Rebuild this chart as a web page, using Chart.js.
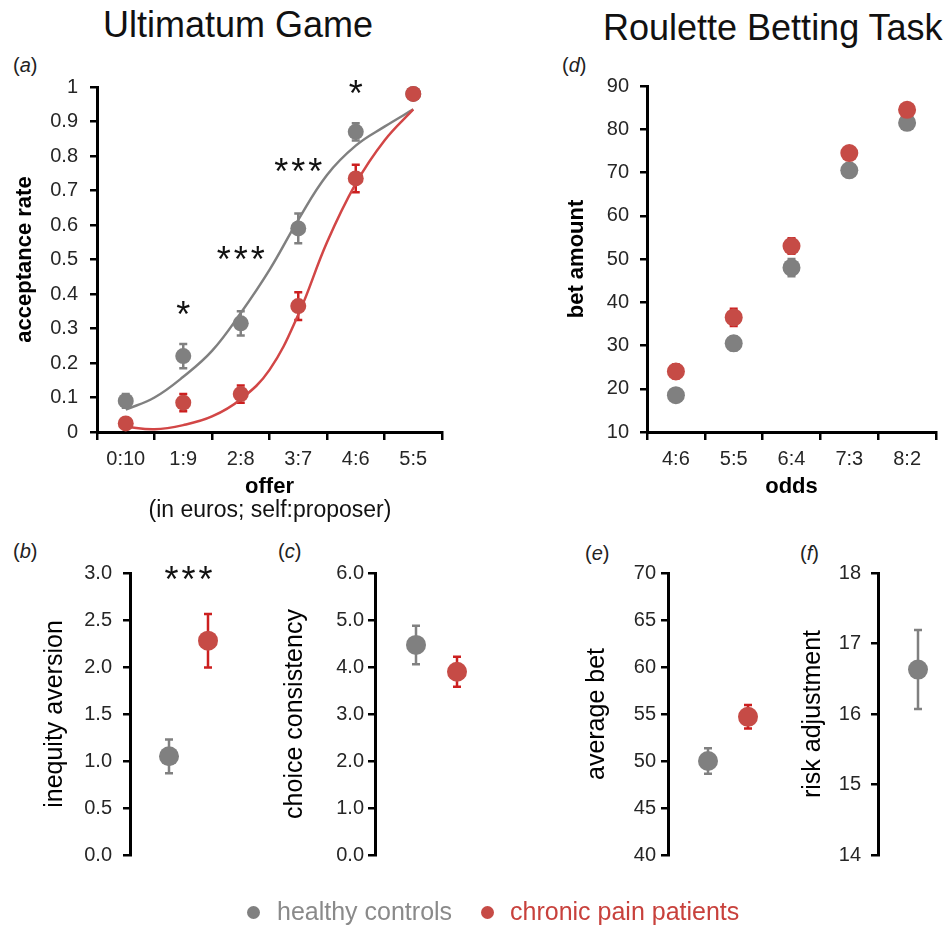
<!DOCTYPE html>
<html>
<head>
<meta charset="utf-8">
<title>Ultimatum Game / Roulette Betting Task</title>
<script src="https://cdn.jsdelivr.net/npm/chart.js@4.4.1/dist/chart.umd.min.js"></script>
<style>
  body { margin: 0; width: 945px; height: 930px; overflow: hidden; background: #fff; position: relative;
         font-family: "Liberation Sans", Arial, sans-serif; }
  canvas { position: absolute; }
  .t { position: absolute; white-space: nowrap; line-height: 1; }
  .big { font-size: 36px; color: #111; }
  .tag { font-size: 20px; color: #222; }
  .dot { position: absolute; width: 13px; height: 13px; border-radius: 50%; }
</style>
</head>
<body>
<div class="t big" style="left:103px;top:7px">Ultimatum Game</div>
<div class="t big" style="left:603px;top:10px">Roulette Betting Task</div>

<div class="t tag" style="left:13px;top:55px">(<i>a</i>)</div>
<div class="t tag" style="left:562px;top:55px">(<i>d</i>)</div>
<div class="t tag" style="left:13px;top:541px">(<i>b</i>)</div>
<div class="t tag" style="left:278px;top:541px">(<i>c</i>)</div>
<div class="t tag" style="left:585px;top:543px">(<i>e</i>)</div>
<div class="t tag" style="left:800px;top:543px">(<i>f</i>)</div>

<canvas id="grafico-a" width="450" height="460" style="left:0;top:60px"></canvas>
<canvas id="grafico-d" width="405" height="460" style="left:540px;top:60px"></canvas>
<canvas id="grafico-b" width="260" height="345" style="left:0;top:540px"></canvas>
<canvas id="grafico-c" width="260" height="345" style="left:250px;top:540px"></canvas>
<canvas id="grafico-e" width="240" height="345" style="left:560px;top:540px"></canvas>
<canvas id="grafico-f" width="230" height="345" style="left:780px;top:540px"></canvas>

<div class="t" style="left:270px;top:498px;font-size:23px;color:#111;transform:translateX(-50%)">(in euros; self:proposer)</div>

<div class="dot" style="left:247px;top:906px;background:#808080"></div>
<div class="t" style="left:277px;top:899px;font-size:25px;color:#8a8a8a">healthy controls</div>
<div class="dot" style="left:481px;top:906px;background:#c64b46"></div>
<div class="t" style="left:510px;top:899px;font-size:25px;color:#c8413c">chronic pain patients</div>

<script>
// Ultimatum game: acceptance rate per offer
const offers = ["0:10", "1:9", "2:8", "3:7", "4:6", "5:5"];
const acceptControls = [0.09, 0.22, 0.315, 0.59, 0.87, 0.98];
const acceptControlsErr = [0.02, 0.035, 0.035, 0.043, 0.025, 0.01];
const acceptPain = [0.025, 0.085, 0.11, 0.365, 0.735, 0.98];
const acceptPainErr = [0.006, 0.025, 0.025, 0.04, 0.04, 0.01];
// fitted curves read at half offer steps
const fitOffers = [0, 0.5, 1, 1.5, 2, 2.5, 3, 3.5, 4, 4.5, 5];
const fitControls = [0.065, 0.1, 0.16, 0.235, 0.345, 0.47, 0.615, 0.745, 0.83, 0.885, 0.935];
const fitPain = [0.015, 0.008, 0.02, 0.045, 0.095, 0.18, 0.34, 0.55, 0.72, 0.845, 0.935];
const acceptSig = ["", "*", "***", "***", "*", ""];
const acceptSigAt = [null, 0.36, 0.52, 0.775, 1.0, null];

// Roulette: bet amount per odds
const odds = ["4:6", "5:5", "6:4", "7:3", "8:2"];
const betControls = [18.5, 30.5, 48, 70.5, 81.5];
const betControlsErr = [1, 1.6, 2, 1.2, 1];
const betPain = [24, 36.5, 53, 74.5, 84.5];
const betPainErr = [1.6, 2, 1.8, 1, 1];

// model parameters, [controls, pain]
const inequity = [1.05, 2.28];
const inequityErr = [0.18, 0.285];
const consistency = [4.47, 3.9];
const consistencyErr = [0.41, 0.32];
const avgBet = [50, 54.7];
const avgBetErr = [1.35, 1.25];
const riskAdj = [16.63, 15.9];
const riskAdjErr = [0.56, 0.3];

const cinza = "#808080";
const vermelho = "#c64b46";
const fonte = "'Liberation Sans', Arial, sans-serif";
const corTicks = "#262626";

// error bars under the markers
const errorBars = {
  id: "errorBars",
  beforeDatasetsDraw(chart) {
    const ctx = chart.ctx;
    chart.data.datasets.forEach((ds, i) => {
      if (!ds.errors) return;
      const meta = chart.getDatasetMeta(i);
      const ys = chart.scales[meta.yAxisID];
      meta.data.forEach((pt, j) => {
        const raw = ds.data[j];
        const v = typeof raw === "object" ? raw.y : raw;
        const e = ds.errors[j];
        if (!e) return;
        const top = ys.getPixelForValue(v + e);
        const bot = ys.getPixelForValue(v - e);
        ctx.save();
        ctx.strokeStyle = ds.errorColor;
        ctx.lineWidth = 2.5;
        ctx.beginPath();
        ctx.moveTo(pt.x, top); ctx.lineTo(pt.x, bot);
        ctx.moveTo(pt.x - 4, top); ctx.lineTo(pt.x + 4, top);
        ctx.moveTo(pt.x - 4, bot); ctx.lineTo(pt.x + 4, bot);
        ctx.stroke();
        ctx.restore();
      });
    });
  }
};

// significance stars
const sigStars = {
  id: "sigStars",
  afterDatasetsDraw(chart, args, opts) {
    if (!opts.marks) return;
    const ctx = chart.ctx;
    const xs = chart.scales.x, ys = chart.scales.y;
    ctx.save();
    ctx.fillStyle = "#111";
    ctx.font = "36px " + fonte;
    ctx.textAlign = "center";
    ctx.textBaseline = "alphabetic";
    const m = ctx.measureText("*");
    const shift = (m.actualBoundingBoxAscent - m.actualBoundingBoxDescent) / 2;
    opts.marks.forEach((mark, i) => {
      if (!mark) return;
      const cx = xs.getPixelForValue(opts.x[i]);
      const cy = ys.getPixelForValue(opts.y[i]) + shift;
      for (let k = 0; k < mark.length; k++) {
        ctx.fillText("*", cx + (k - (mark.length - 1) / 2) * 17, cy);
      }
    });
    ctx.restore();
  }
};

Chart.register(errorBars, sigStars);

function eixoY(min, max, step, largura, titulo, tamTitulo, negrito, padTitulo, padTick, fmt) {
  return {
    min: min, max: max,
    ticks: { stepSize: step, color: corTicks, font: { family: fonte, size: 20 }, padding: padTick, callback: fmt },
    border: { color: "#000", width: 3 },
    grid: { drawOnChartArea: false, color: "#000", lineWidth: 2.5, tickLength: 7 },
    title: { display: true, text: titulo, color: "#000",
             font: { family: fonte, size: tamTitulo, weight: negrito ? "bold" : "normal" },
             padding: { top: padTitulo, bottom: 0 } },
    afterFit: s => { s.width = largura; }
  };
}

function eixoX(titulo) {
  return {
    type: "category", offset: true,
    ticks: { color: corTicks, font: { family: fonte, size: 20 }, padding: 7 },
    border: { color: "#000", width: 3 },
    grid: { offset: true, drawOnChartArea: false, color: "#000", lineWidth: 2.5, tickLength: 8 },
    title: { display: true, text: titulo, color: "#000",
             font: { family: fonte, size: 22, weight: "bold" }, padding: { top: 0, bottom: 20 } },
    afterFit: s => { s.height = 88; }
  };
}

// Gráfico (a) – acceptance rate
new Chart(document.getElementById("grafico-a"), {
  type: "line",
  data: {
    labels: offers,
    datasets: [
      { data: acceptPain, errors: acceptPainErr, errorColor: "#cc1f1f", showLine: false,
        pointRadius: 8, pointBackgroundColor: vermelho, pointBorderWidth: 0, clip: false },
      { data: acceptControls, errors: acceptControlsErr, errorColor: cinza, showLine: false,
        pointRadius: 8, pointBackgroundColor: cinza, pointBorderWidth: 0, clip: false },
      { data: fitOffers.map((x, i) => ({ x: x, y: fitPain[i] })), xAxisID: "xFit",
        borderColor: "#d24646", borderWidth: 2.5, pointRadius: 0, tension: 0.4, clip: false },
      { data: fitOffers.map((x, i) => ({ x: x, y: fitControls[i] })), xAxisID: "xFit",
        borderColor: cinza, borderWidth: 2.5, pointRadius: 0, tension: 0.4, clip: false }
    ]
  },
  options: {
    responsive: false, animation: false,
    layout: { padding: { top: 27, right: 8, left: 0, bottom: 0 } },
    scales: {
      x: eixoX("offer"),
      xFit: { type: "linear", axis: "x", position: "bottom", min: -0.5, max: 5.5, display: false },
      y: eixoY(0, 1, 0.1, 97, "acceptance rate", 22, true, 12, 12, v => String(Math.round(v * 10) / 10))
    },
    plugins: {
      legend: { display: false }, tooltip: { enabled: false },
      sigStars: { marks: acceptSig, x: offers.map((o, i) => i), y: acceptSigAt }
    }
  }
});

// Gráfico (d) – bet amount
new Chart(document.getElementById("grafico-d"), {
  type: "line",
  data: {
    labels: odds,
    datasets: [
      { data: betPain, errors: betPainErr, errorColor: "#cc1f1f", showLine: false,
        pointRadius: 9, pointBackgroundColor: vermelho, pointBorderWidth: 0, clip: false },
      { data: betControls, errors: betControlsErr, errorColor: cinza, showLine: false,
        pointRadius: 9, pointBackgroundColor: cinza, pointBorderWidth: 0, clip: false }
    ]
  },
  options: {
    responsive: false, animation: false,
    layout: { padding: { top: 26, right: 7, left: 0, bottom: 0 } },
    scales: {
      x: eixoX("odds"),
      y: eixoY(10, 90, 10, 107, "bet amount", 22, true, 24, 11)
    },
    plugins: { legend: { display: false }, tooltip: { enabled: false } }
  }
});

// bottom panels: one point per group, x axis kept only as empty space
function grupo(id, valores, erros, min, max, step, largura, padDir, titulo, padTitulo, padTick, fmt, sig) {
  new Chart(document.getElementById(id), {
    type: "scatter",
    data: {
      datasets: [
        { data: [{ x: 2, y: valores[1] }], errors: [erros[1]], errorColor: "#cc1f1f",
          pointRadius: 10, pointBackgroundColor: vermelho, pointBorderWidth: 0, clip: false },
        { data: [{ x: 1, y: valores[0] }], errors: [erros[0]], errorColor: cinza,
          pointRadius: 10, pointBackgroundColor: cinza, pointBorderWidth: 0, clip: false }
      ]
    },
    options: {
      responsive: false, animation: false,
      layout: { padding: { top: 33, right: padDir, left: 0, bottom: 0 } },
      scales: {
        x: { type: "linear", min: 0, max: 3,
             ticks: { display: false }, grid: { display: false }, border: { display: false },
             afterFit: s => { s.height = 30; } },
        y: eixoY(min, max, step, largura, titulo, 25, false, padTitulo, padTick, fmt)
      },
      plugins: {
        legend: { display: false }, tooltip: { enabled: false },
        sigStars: sig || {}
      }
    }
  });
}

grupo("grafico-b", inequity, inequityErr, 0, 3, 0.5, 130, 13, "inequity aversion", 40, 11,
      v => v.toFixed(1), { marks: ["***"], x: [1.5], y: [3.0] });
grupo("grafico-c", consistency, consistencyErr, 0, 6, 1, 125, 12, "choice consistency", 30, 4,
      v => v.toFixed(1));
grupo("grafico-e", avgBet, avgBetErr, 40, 70, 5, 108, 12, "average bet", 22, 5,
      v => String(v));
grupo("grafico-f", riskAdj, riskAdjErr, 14, 18, 1, 98, 12, "risk adjustment", 18, 10,
      v => String(v));
</script>
</body>
</html>
